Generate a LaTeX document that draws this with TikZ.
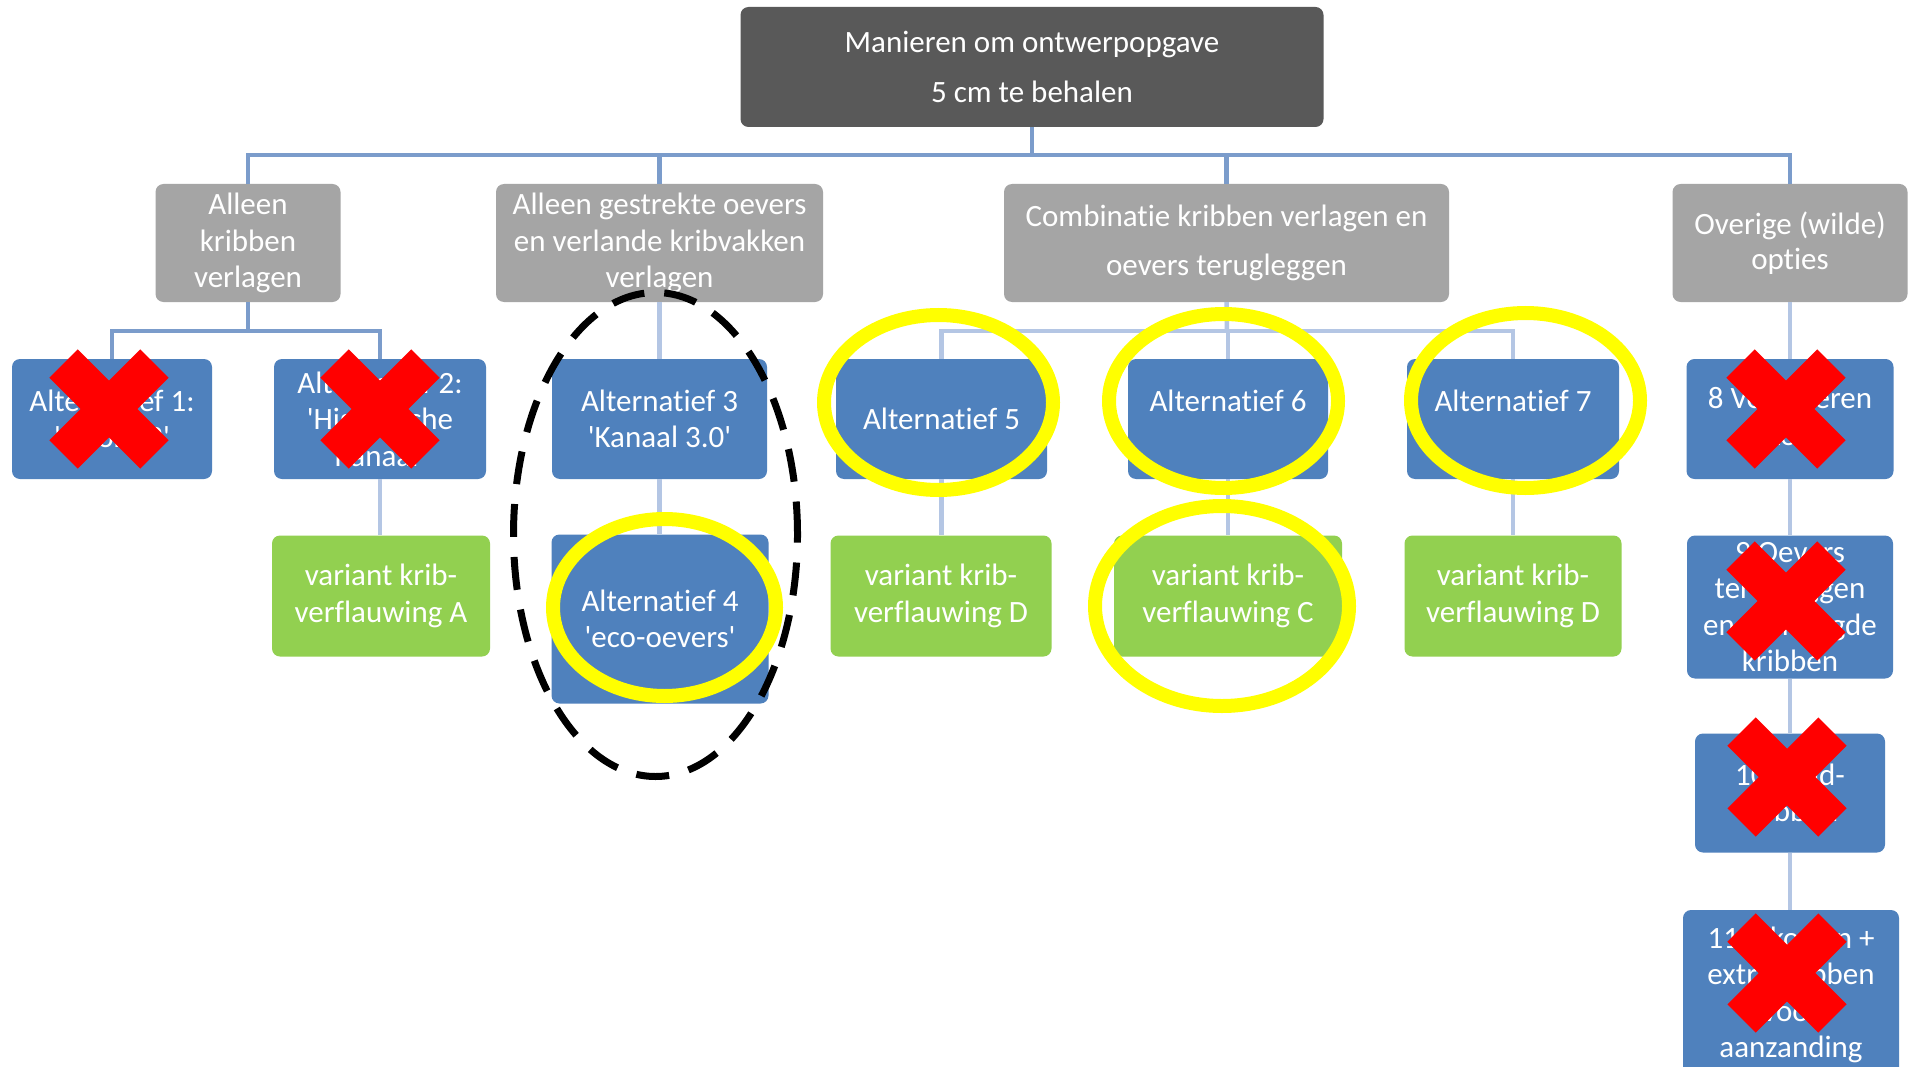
\documentclass[tikz,border=0pt]{standalone}
\usepackage{fontspec}
\setmainfont{Carlito}[Ligatures=NoCommon]
\usetikzlibrary{calc}
\definecolor{topgray}{HTML}{595959}
\definecolor{midgray}{HTML}{A5A5A5}
\definecolor{altblue}{HTML}{4F81BD}
\definecolor{vargreen}{HTML}{92D050}
\definecolor{linkblue}{HTML}{7B9CCB}
\definecolor{linklight}{HTML}{B4C6E4}
\definecolor{ringyellow}{HTML}{FFFF00}
\newcommand{\sq}{\textquotesingle}
\tikzset{
 box/.style={rectangle, rounded corners=8pt, inner sep=0pt, align=center, text=white, font=\fontsize{31}{36.5}\selectfont},
 topbox/.style={box, fill=topgray, font=\fontsize{31}{50}\selectfont},
 catbox/.style={box, fill=midgray, minimum height=118pt},
 altbox/.style={box, fill=altblue, minimum height=120pt},
 varbox/.style={box, fill=vargreen, minimum height=121pt},
 link/.style={draw=linkblue, line width=4.5pt},
 sublink/.style={draw=linklight, line width=4.5pt},
 ring/.style={draw=ringyellow, line width=14pt},
 dashring/.style={draw=black, line width=7pt, dash pattern=on 33pt off 20pt},
 redx/.style={draw=red, line width=40pt, line cap=butt},
}
\begin{document}
\begin{tikzpicture}[x=1pt,y=-1pt]
\useasboundingbox (0,0) rectangle (1910,1067);
\clip (0,0) rectangle (1910,1067);
\fill[white] (0,0) rectangle (1910,1067);

% top
\node[topbox, minimum width=583pt, minimum height=120pt] (top) at (1032,67) {Manieren om ontwerpopgave\\5 cm te behalen};

% categories
\node[catbox, minimum width=185pt] (A) at (248,243) {Alleen\\kribben\\verlagen};
\node[catbox, minimum width=327pt] (B) at (659.5,243) {Alleen gestrekte oevers\\en verlande kribvakken\\verlagen};
\node[catbox, minimum width=445pt, font=\fontsize{31}{49}\selectfont] (C) at (1226.5,243) {Combinatie kribben verlagen en\\oevers terugleggen};
\node[catbox, minimum width=235pt, font=\fontsize{31}{35}\selectfont] (D) at (1790,243) {Overige (wilde)\\opties};

% level 2
\node[altbox, minimum width=200pt] (alt1) at (112,419) {Alternatief 1:\\\sq Noord 2\sq};
\node[altbox, minimum width=212pt] (alt2) at (380,419) {Alternatief 2:\\\sq Historische\\Kanaal\sq};
\node[altbox, minimum width=215pt] (alt3) at (659.5,419) {Alternatief 3\\\sq Kanaal 3.0\sq};
\node[altbox, minimum width=211pt] (alt5) at (941.5,419) {Alternatief 5};
\node[altbox, minimum width=200pt] (alt6) at (1228,419) {Alternatief 6\\~};
\node[altbox, minimum width=212pt] (alt7) at (1513,419) {Alternatief 7\\~};
\node[altbox, minimum width=207pt] (opt8) at (1790,419) {8 Verbeteren\\zog};

% level 3
\node[varbox, minimum width=218pt] (varA) at (381,596) {variant krib-\\verflauwing A};
\node[altbox, minimum width=217pt, minimum height=169pt] (alt4) at (660,619) {Alternatief 4\\\sq eco-oevers\sq};
\node[varbox, minimum width=221pt] (varD) at (941,596) {variant krib-\\verflauwing D};
\node[varbox, minimum width=228pt] (varC) at (1228,596) {variant krib-\\verflauwing C};
\node[varbox, minimum width=217pt] (varDb) at (1513,596) {variant krib-\\verflauwing D};
\node[altbox, minimum width=206pt, minimum height=143pt] (opt9) at (1790,607) {9 Oevers\\terugleggen\\en verhoogde\\kribben};
\node[altbox, minimum width=190pt, minimum height=119pt] (opt10) at (1790,793) {10 Zand-\\kribben};
\node[altbox, minimum width=216pt, minimum height=170pt] (opt11) at (1791,995) {11 Inkorten +\\extra kribben\\voor\\aanzanding};

% connectors
\coordinate (bar) at (1032,155);
\draw[link] (top.south) -- (bar);
\draw[link] (A.north) |- (bar) -| (D.north);
\draw[link] (B.north) -- (B.north |- bar);
\draw[link] (C.north) -- (C.north |- bar);

\coordinate (abar) at (248,331);
\draw[link] (A.south) -- (abar);
\draw[link] (alt1.north) |- (abar) -| (alt2.north);
\draw[sublink] (alt2.south) -- (alt2.south |- varA.north);

\draw[sublink] (B.south) -- (alt3.north);
\draw[sublink] (alt3.south) -- (alt3.south |- alt4.north);

\coordinate (cbar) at (1227,331);
\draw[sublink] (C.south) -- (cbar);
\draw[sublink] (alt5.north) |- (cbar) -| (alt7.north);
\draw[sublink] (alt6.north) -- (alt6.north |- cbar);
\draw[sublink] (alt5.south) -- (alt5.south |- varD.north);
\draw[sublink] (alt6.south) -- (alt6.south |- varC.north);
\draw[sublink] (alt7.south) -- (alt7.south |- varDb.north);

\draw[sublink] (D.south) -- (D.south |- opt8.north);
\draw[sublink] (opt8.south) -- (opt8.south |- opt9.north);
\draw[sublink] (opt9.south) -- (opt9.south |- opt10.north);
\draw[sublink] (opt10.south) -- (opt10.south |- opt11.north);

% highlight rings
\draw[ring] (938.5,402.5) ellipse [x radius=114.5pt, y radius=87.5pt];
\draw[ring] (1223.5,401) ellipse [x radius=114.5pt, y radius=87pt];
\draw[ring] (1525.5,400.5) ellipse [x radius=114.5pt, y radius=87.5pt];
\draw[ring] (1222,606) ellipse [x radius=127pt, y radius=100pt];
\draw[ring] (664.5,607.5) ellipse [x radius=111.5pt, y radius=88.5pt];
\draw[dashring] (655.5,534.5) ellipse [x radius=142pt, y radius=242pt];

% crosses
\foreach \n/\cx/\cy in {x1/109/409, x2/380/409, x8/1786/409, x9/1786/601, x10/1787/777, x11/1787/973}{
  \coordinate (\n) at (\cx,\cy);
  \draw[redx] ($(\n)+(-45.4,-45.4)$) -- ($(\n)+(45.4,45.4)$);
  \draw[redx] ($(\n)+(-45.4,45.4)$) -- ($(\n)+(45.4,-45.4)$);
}
\end{tikzpicture}
\end{document}
